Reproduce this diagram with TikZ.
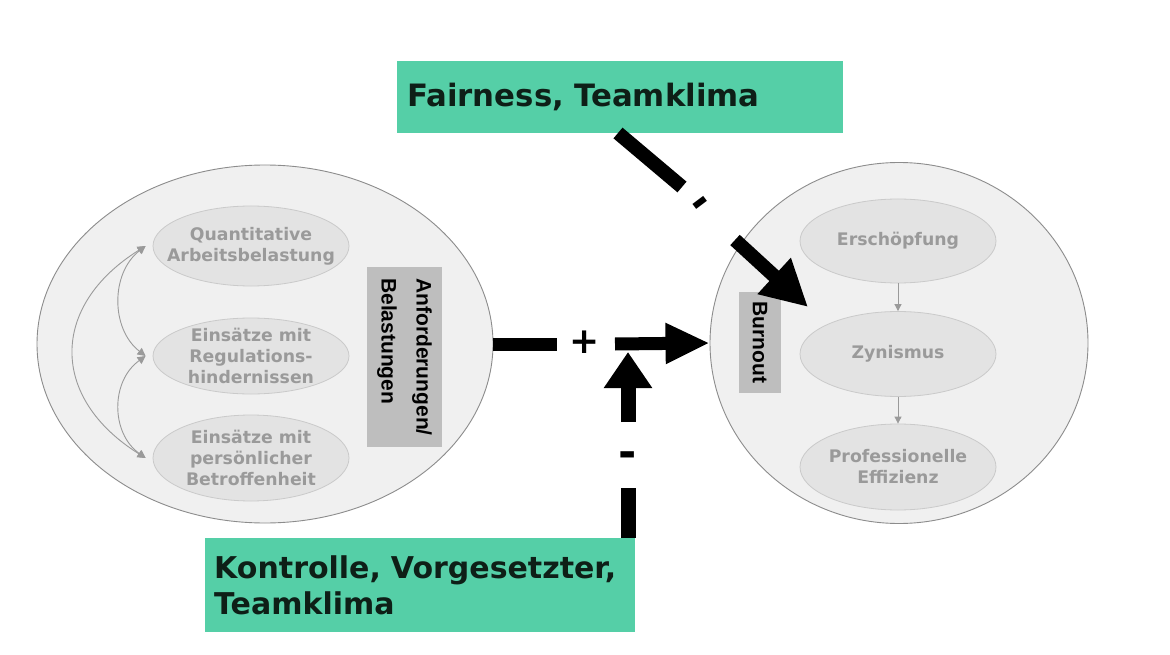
\documentclass[tikz,border=0pt]{standalone}
\usepackage{fontspec}
\setmainfont{DejaVu Sans}
\newfontfamily\arialfont{Liberation Sans}
\usetikzlibrary{shapes.geometric,arrows.meta}
\definecolor{outerfill}{HTML}{F0F0F0}
\definecolor{outerdraw}{HTML}{8C8C8C}
\definecolor{innerfill}{HTML}{E3E3E3}
\definecolor{innerdraw}{HTML}{CACACA}
\definecolor{graytxt}{HTML}{9A9A9A}
\definecolor{boxgray}{HTML}{BEBEBE}
\definecolor{teal}{HTML}{55CFA7}
\definecolor{darktxt}{HTML}{0E1F17}
\tikzset{
  bigell/.style={ellipse, draw=outerdraw, fill=outerfill, line width=0.9pt, inner sep=0pt},
  smallell/.style={ellipse, draw=innerdraw, fill=innerfill, line width=0.8pt, inner sep=0pt,
    minimum width=196pt},
  graylabel/.style={inner sep=0pt, text=graytxt, align=center, font=\bfseries\fontsize{17.3}{21}\selectfont},
  rotbox/.style={fill=boxgray, rotate=-90, inner sep=0pt, align=left,
    font=\arialfont\bfseries\fontsize{21}{35}\selectfont},
  greenbox/.style={fill=teal, text=darktxt, inner xsep=10pt, inner ysep=0pt, align=left,
    font=\bfseries\fontsize{30.8}{36}\selectfont},
  thinarr/.style={draw=graytxt, line width=0.9pt, {Triangle[length=8pt,width=8pt]}-{Triangle[length=8pt,width=8pt]}},
  downarr/.style={draw=graytxt, line width=0.8pt, -{Triangle[length=7pt,width=7pt]}},
  bigline/.style={line width=13pt, draw=black},
  sign/.style={inner sep=0pt, font=\bfseries\fontsize{36}{36}\selectfont},
  minussign/.style={inner sep=0pt, font=\bfseries\fontsize{44}{44}\selectfont}
}
\begin{document}
\begin{tikzpicture}[x=1pt,y=-1pt]
\useasboundingbox (0,0) rectangle (1170,655);
\fill[white] (0,0) rectangle (1170,655);

% big ellipses
\node[bigell, minimum width=456pt, minimum height=358pt] (dem) at (265,344) {};
\node[bigell, minimum width=378pt, minimum height=361pt] (bo) at (899,343) {};

% left inner ellipses
\node[smallell, minimum height=80pt] (q) at (251,246) {};
\node[graylabel] (qt) at (q.center) {Quantitative\\Arbeitsbelastung};
\node[smallell, minimum height=76pt] (r) at (251,356) {};
\node[graylabel] (rt) at (r.center) {Einsätze mit\\Regulations-\\hindernissen};
\node[smallell, minimum height=86pt] (p) at (251,458) {};
\node[graylabel] (pt) at (p.center) {Einsätze mit\\persönlicher\\Betroffenheit};

% right inner ellipses
\node[smallell, minimum height=84pt] (e) at (898,241) {};
\node[graylabel] (et) at (e.center) {Erschöpfung};
\node[smallell, minimum height=85pt] (z) at (898,354) {};
\node[graylabel] (zt) at (z.center) {Zynismus};
\node[smallell, minimum height=86pt] (pe) at (898,467) {};
\node[graylabel] (pet) at (pe.center) {Professionelle\\Effizienz};

% rotated gray boxes
\node[rotbox, minimum width=180pt, minimum height=75pt] (anf) at (404.5,357) {Anforderungen/\\Belastungen};
\node[rotbox, minimum width=101pt, minimum height=42pt] (burn) at (760,342.5) {Burnout};

% left curved double arrows
\draw[thinarr] ([xshift=-7pt]q.west) .. controls +(-35,27) and +(-35,-27) .. ([xshift=-7pt]r.west);
\draw[thinarr] ([xshift=-7pt]r.west) .. controls +(-35,25) and +(-35,-25) .. ([xshift=-7pt]p.west);
\draw[thinarr] ([xshift=-7pt]q.west) .. controls +(-96,60) and +(-96,-60) .. ([xshift=-7pt]p.west);

% right vertical arrows
\draw[downarr] (e.south) -- (z.north);
\draw[downarr] (z.south) -- (pe.north);

% green boxes
\node[greenbox, anchor=north west, minimum width=446pt, minimum height=72pt, text width=426pt] (fair) at (397,61) {Fairness, Teamklima};
\node[greenbox, anchor=north west, minimum width=429pt, minimum height=94pt, text width=412pt,
  inner xsep=9pt, font=\bfseries\fontsize{30}{36}\selectfont] (kont) at (205,538) {Kontrolle, Vorgesetzter,\\Teamklima};

% coordinates for the broken arrows
\coordinate (h1) at (557,344);
\coordinate (h2) at (615,344);
\coordinate (v0) at (628,538);
\coordinate (v1) at (628,488);
\coordinate (v2) at (628,422);
\coordinate (v3) at (628,352);
\coordinate (d0) at (618,133);
\coordinate (d1) at (682,187);
\coordinate (d2) at (735,240);
\coordinate (d3) at (808,307);

% horizontal arrow demands -> burnout
\draw[bigline] (dem.east) -- (h1);
\node[sign] (plus) at (585,342) {+};
\draw[bigline, -{Triangle[length=44pt,width=38pt]}] (h2) -- (bo.west);

% vertical arrow from Kontrolle
\draw[line width=15pt] (v0) -- (v1);
\node[minussign] (minus) at (628,460) {-};
\draw[line width=15pt, -{Triangle[length=36pt,width=46pt]}] (v2) -- (v3);

% diagonal arrow from Fairness
\draw[line width=14pt] (d0) -- (d1);
\node[minussign, rotate=37] (dminus) at (703,207) {-};
\draw[line width=14pt, -{Triangle[length=46pt,width=46pt]}] (d2) -- (d3);
\end{tikzpicture}
\end{document}
